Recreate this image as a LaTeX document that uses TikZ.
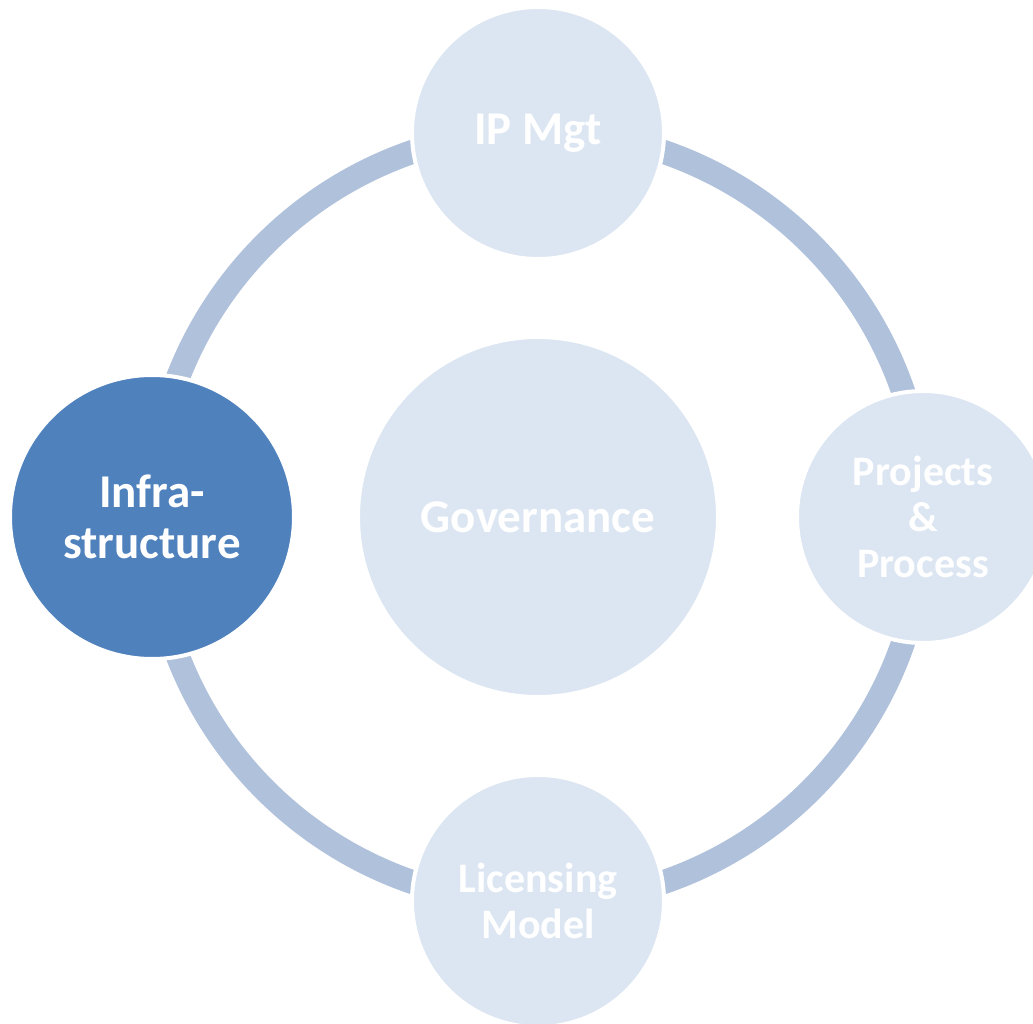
\documentclass[tikz,border=0pt]{standalone}
\usepackage{fontspec}
\setmainfont{Carlito}
\definecolor{ringc}{HTML}{B0C1DC}
\definecolor{lightc}{HTML}{DCE6F2}
\definecolor{darkc}{HTML}{4F81BD}
\begin{document}
\begin{tikzpicture}[x=1pt,y=-1pt,
  ball/.style={circle, inner sep=0pt, draw=white, line width=4pt, fill=lightc,
    text=white, font=\bfseries, align=center},
  big/.style={font=\fontsize{47}{51}\selectfont\bfseries},
  small/.style={font=\fontsize{42}{46}\selectfont\bfseries}]
\useasboundingbox (0,0) rectangle (1033,1024);
\clip (0,0) rectangle (1033,1024);
\coordinate (c) at (538,517);
\draw[ringc, line width=24pt] (c) circle (386);
\node[ball, big, minimum size=360pt] (gov) at (c) {Governance};
\node[ball, big, minimum size=252pt] (ip) at (538,133) {IP Mgt};
\node[ball, small, minimum size=252pt] (proj) at (923,517) {Projects\\\&\\Process};
\node[ball, small, minimum size=252pt] (lic) at (538,901) {Licensing\\Model};
\node[ball, big, minimum size=284pt, fill=darkc] (infra) at (152,517) {Infra-\\structure};
\end{tikzpicture}
\end{document}
